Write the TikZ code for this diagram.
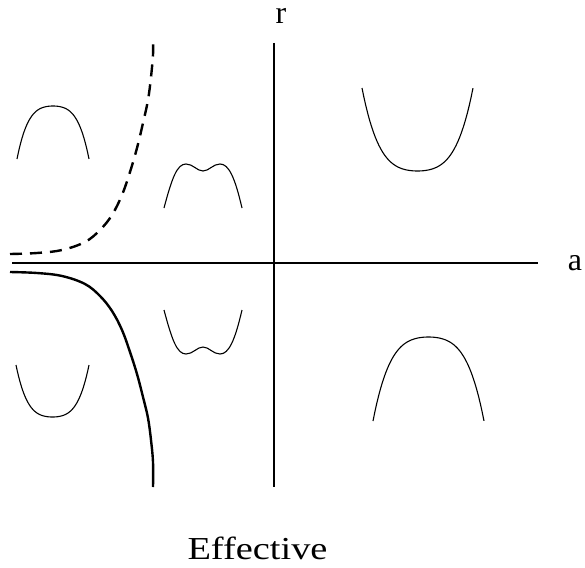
\documentclass[tikz,border=0pt]{standalone}
\usepackage{graphicx}
\usepackage{fontspec}
\setmainfont{Liberation Serif}
\begin{document}
\begin{tikzpicture}[x=1pt,y=-1pt,
  axis/.style={line width=2pt},
  phase/.style={line width=2.4pt},
  pot/.style={line width=1.1pt},
  lbl/.style={font=\fontsize{32}{38}\selectfont, inner sep=0pt, anchor=base}]
\useasboundingbox (0,0) rectangle (585,567);
% axes
\coordinate (xl) at (12,263);
\coordinate (xr) at (538,263);
\coordinate (yt) at (274,43);
\coordinate (yb) at (274,487);
\draw[axis] (xl) -- (xr);
\draw[axis] (yt) -- (yb);
\node[lbl] (rlab) at (281,24) {r};
\node[lbl] (alab) at (575,270) {a};
\node[lbl] (title) at (257.5,559) {\scalebox{1.2}[1]{Effective}};
% dashed phase line
\draw[phase, dash pattern=on 12pt off 8pt] plot[smooth, tension=0.6] coordinates {
 (10,254) (37,253) (62,250) (85,242) (100,230) (112,215) (122,195) (130,172)
 (137,148) (143,123) (148,100) (151,77) (153,55) (153,43)};
% solid phase line
\draw[phase] plot[smooth, tension=0.6] coordinates {
 (10,272) (37,273) (62,276) (85,284) (100,296) (112,311) (122,330) (130,352)
 (137,374) (143,397) (148,418) (151,440) (153,462) (153,487)};
% potentials
\draw[pot] plot[domain=-1:1, samples=60] ({53+36*\x}, {106+53*(0.3*\x*\x+0.7*\x*\x*\x*\x)});
\draw[pot] plot[domain=-1:1, samples=60] ({52.5+36.5*\x}, {417-52*(0.3*\x*\x+0.7*\x*\x*\x*\x)});
\draw[pot] plot[domain=-1:1, samples=60] ({417.5+55.5*\x}, {171-83*(0.3*\x*\x+0.7*\x*\x*\x*\x)});
\draw[pot] plot[domain=-1:1, samples=60] ({428.5+55.5*\x}, {337+84*(0.3*\x*\x+0.7*\x*\x*\x*\x)});
% M shape
\draw[pot] (164,208) .. controls (172,178) and (177,164) .. (186,164)
  .. controls (193,164) and (197,171) .. (203,171)
  .. controls (209,171) and (213,164) .. (220,164)
  .. controls (229,164) and (235,178) .. (242,208);
% W shape
\draw[pot] (164,310) .. controls (172,340) and (177,354) .. (186,354)
  .. controls (193,354) and (197,347) .. (203,347)
  .. controls (209,347) and (213,354) .. (220,354)
  .. controls (229,354) and (235,340) .. (242,310);
\end{tikzpicture}
\end{document}
